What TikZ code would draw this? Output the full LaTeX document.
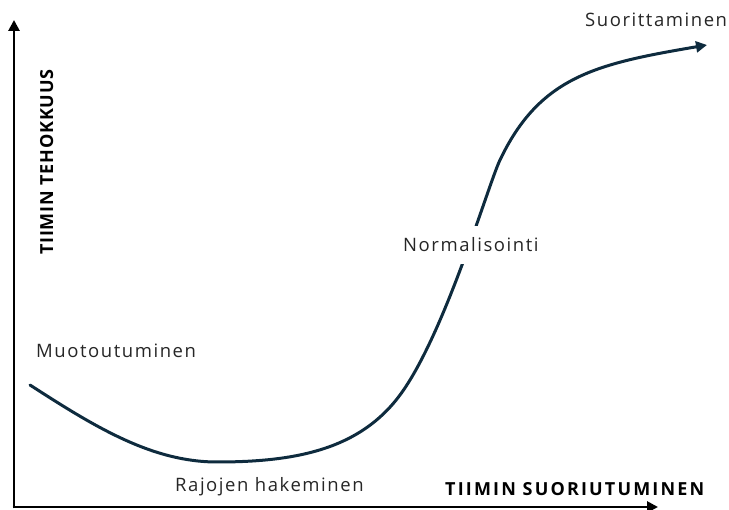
\documentclass[tikz,border=0pt]{standalone}
\usepackage{fontspec}
\setmainfont{Open Sans}
\newfontfamily\labfont{Open Sans}[LetterSpace=8.4]
\newfontfamily\axxfont{Open Sans}[LetterSpace=12]
\newfontfamily\axyfont{Open Sans}[LetterSpace=4.5]
\usetikzlibrary{arrows.meta}
\definecolor{curvecol}{HTML}{0E2B3E}
\definecolor{txtcol}{HTML}{262626}
\tikzset{
  lab/.style={font=\labfont\fontsize{18.5}{20}\selectfont, text=txtcol, inner sep=0pt},
  axlabx/.style={font=\axxfont\bfseries\fontsize{18}{20}\selectfont, text=black, inner sep=0pt},
  axlaby/.style={font=\axyfont\bfseries\fontsize{18}{20}\selectfont, text=black, inner sep=0pt},
  axis/.style={line width=2.8pt, draw=black, -{Triangle[length=11pt,width=11pt]}},
  scurve/.style={line width=3pt, draw=curvecol, line cap=round, -{Triangle[length=11pt,width=11pt]}}
}
\begin{document}
\begin{tikzpicture}[x=1pt,y=-1pt]
\useasboundingbox (0,0) rectangle (729,510);
\coordinate (ytop) at (14,20);
\coordinate (xend) at (658,507);
\coordinate (ybot) at (14,508.4);
\coordinate (xbeg) at (12.6,507);
\draw[axis] (ybot) -- (ytop);
\draw[axis] (xbeg) -- (xend);
\coordinate (c0) at (30,385);
\coordinate (c1) at (217,462);
\coordinate (c2) at (400,395);
\coordinate (c3) at (500,160);
\coordinate (c4) at (707,45);
\draw[scurve] (c0) .. controls (95,427) and (152,462) .. (c1)
  .. controls (297,462) and (360,449) .. (c2)
  .. controls (445,334) and (488,185) .. (c3)
  .. controls (540,76) and (597,63.7) .. (c4);
\node[lab, anchor=base west] (muo) at (36,358) {Muotoutuminen};
\node[lab, anchor=base west] (raj) at (175,492) {Rajojen hakeminen};
\node[lab, anchor=base west, fill=white, text height=14pt, text depth=0pt, inner ysep=12pt, inner xsep=2pt] (nor) at (401,252) {Normalisointi};
\node[lab, anchor=base west] (suo) at (585,27) {Suorittaminen};
\node[axlabx, anchor=base west] (xl) at (445,496) {TIIMIN SUORIUTUMINEN};
\node[axlaby, anchor=base west, rotate=90] (yl) at (53,255) {TIIMIN TEHOKKUUS};
\end{tikzpicture}
\end{document}
